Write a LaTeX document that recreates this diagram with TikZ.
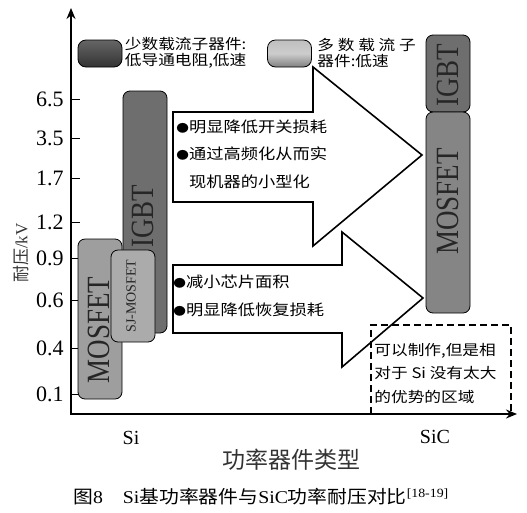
\documentclass[tikz,border=0pt]{standalone}
\usepackage{fontspec}
\setmainfont{Liberation Serif}
\newfontfamily\cjk{Noto Sans CJK SC}
\usetikzlibrary{arrows.meta,calc}
\newcommand{\itemdot}{{\fontsize{11}{11}\selectfont ●}}

\begin{document}
\begin{tikzpicture}[>={Stealth[length=11pt,width=9pt]}, thick, x=1pt, y=-1pt,
  bar/.style={draw=black, line width=0.8pt, rounded corners=7pt, rotate=90, inner sep=0pt},
  barlabel/.style={rotate=90, yscale=1.2, inner sep=0pt, text=black!85,
    font=\fontsize{27}{27}\selectfont},
  ticklabel/.style={anchor=east, inner sep=0pt, font=\fontsize{22}{22}\selectfont},
  legtext/.style={anchor=west, align=left, inner sep=0pt, xscale=1.15,
    font=\cjk\fontsize{14.5}{15.5}\selectfont},
  arrowtext/.style={anchor=west, align=left, inner sep=0pt, xscale=1.15,
    font=\cjk\fontsize{15}{27.5}\selectfont},
  bigarrow/.style={draw=black, line width=1.6pt, fill=white, line join=miter},
]
  %================= Parameters =================
  \def\ox{71}      % y axis position
  \def\oy{414}     % x axis position
  \def\bw{44}      % bar width
  \useasboundingbox (0,0) rectangle (527,512);

  %================= Axes =================
  \coordinate (O) at (\ox,\oy);
  \coordinate (ytop) at (\ox,8);
  \coordinate (xend) at (517,\oy);
  \draw[line width=1.8pt, <->] (ytop) -- (O) -- (xend);

  %================= Ticks and voltage levels =================
  \foreach \v/\y in {6.5/99,3.5/138,1.7/178,1.2/222,0.9/258,0.6/300,0.4/348,0.1/394}{
    \draw[line width=1pt] (\ox,\y) -- (\ox+9,\y);
    \node[ticklabel] (tk\y) at (64,\y) {\v};
  }
  \node[rotate=90, text=black!80, font=\fontsize{17}{17}\selectfont] (ytitle) at (21,253)
    {{\cjk 耐压}/kV};

  %================= Legend =================
  \node[draw=black, line width=0.8pt, rounded corners=8pt, top color=black!60,
    bottom color=black!80, minimum width=44pt, minimum height=27pt] (legmin) at (100,53.5) {};
  \node[legtext] (legmintxt) at (124.5,53) {少数载流子器件:\\低导通电阻,低速};
  \node[draw=black, line width=0.8pt, rounded corners=8pt, top color=black!25,
    bottom color=black!50, middle color=black!20, minimum width=44pt, minimum height=27pt]
    (legmaj) at (289.5,53.5) {};
  \node[legtext] (legmajtxt) at (317,53) {多 数 载 流 子\\器件:低速};

  %================= Si devices =================
  \node[bar, fill=black!38, minimum width=160pt, minimum height=\bw pt] (simos) at (100,319) {};
  \node[bar, fill=black!57, minimum width=242pt, minimum height=\bw pt] (siigbt) at (145,212) {};
  \node[bar, fill=black!33, minimum width=92pt, minimum height=\bw pt] (sjmos) at (133,296) {};
  \node[barlabel] (simoslbl) at ($(simos.center)+(-1,11)$) {MOSFET};
  \node[barlabel] (siigbtlbl) at ($(siigbt.center)+(-2,4)$) {IGBT};
  \node[rotate=90, inner sep=0pt, text=black!85, font=\fontsize{14}{14}\selectfont]
    (sjmoslbl) at ($(sjmos.center)+(-2,0)$) {SJ-MOSFET};

  %================= SiC devices =================
  \node[bar, fill=black!57, minimum width=77pt, minimum height=\bw pt] (sicigbt) at (448,73.5) {};
  \node[bar, fill=black!48, minimum width=201pt, minimum height=\bw pt] (sicmos) at (448,212.5) {};
  \node[barlabel] (sicigbtlbl) at ($(sicigbt.center)+(0,1.5)$) {IGBT};
  \node[barlabel] (sicmoslbl) at ($(sicmos.center)+(0,-11)$) {MOSFET};

  %================= Benefit arrows =================
  \draw[bigarrow] (173,112) -- (313,112) -- (313,67) -- (422,155) -- (313,246)
    -- (313,202) -- (173,202) -- cycle;
  \draw[bigarrow] (173,265) -- (342,265) -- (342,232) -- (423,298) -- (342,367)
    -- (342,333) -- (173,333) -- cycle;
  \node[arrowtext] (uptxt) at (176,154)
    {\itemdot 明显降低开关损耗\\\itemdot 通过高频化从而实\\\phantom{\itemdot}现机器的小型化};
  \node[arrowtext] (lowtxt) at (173,296) {\itemdot 减小芯片面积\\\itemdot 明显降低恢复损耗};

  %================= Region without clear advantage =================
  \draw[line width=1.8pt, dash pattern=on 7pt off 4pt] (371,\oy) -- (371,325) -- (511,325)
    -- (511,\oy) -- cycle;
  \node[anchor=west, align=left, inner sep=0pt, xscale=1.15,
    font=\cjk\fontsize{14.5}{23.5}\selectfont] (regiontxt) at (374,373)
    {可以制作,但是相\\对于 Si 没有太大\\的优势的区域};

  %================= Axis labels and caption =================
  \node[font=\fontsize{20}{20}\selectfont] (silbl) at (131,438) {Si};
  \node[font=\fontsize{20}{20}\selectfont] (siclbl) at (435,437) {SiC};
  \node[text=black!80, font=\cjk\fontsize{23}{23}\selectfont] (xtitle) at (291,460) {功率器件类型};
  \node[anchor=west, inner sep=0pt, xscale=1.1, font=\fontsize{18}{18}\selectfont] (caption) at (73,497)
    {{\cjk 图}8\quad Si{\cjk 基功率器件与}SiC{\cjk 功率耐压对比}\textsuperscript{[18-19]}};
\end{tikzpicture}
\end{document}
